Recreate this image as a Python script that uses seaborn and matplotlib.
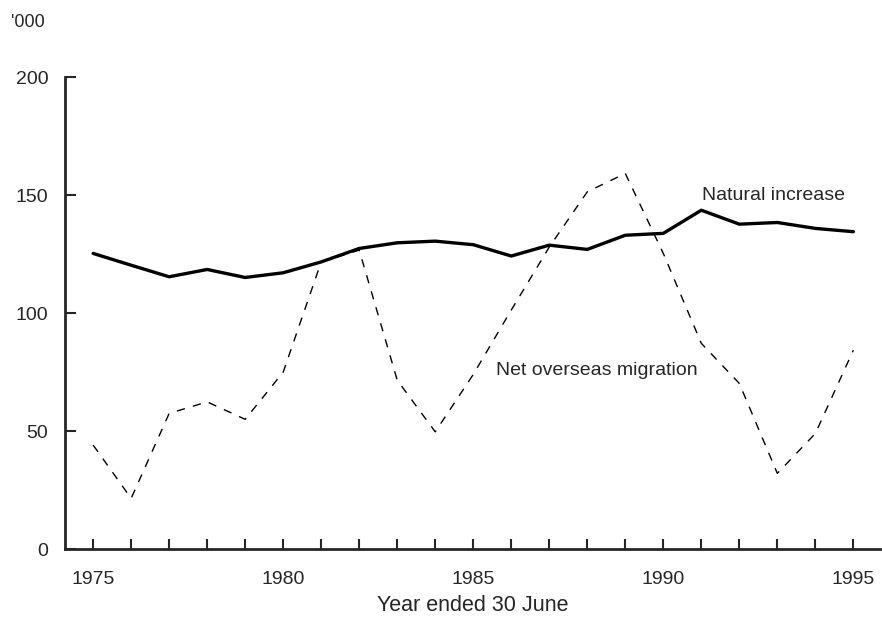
import matplotlib
matplotlib.use("Agg")
import matplotlib.pyplot as plt
import seaborn as sns
import pandas as pd

# Data ('000 persons)
years = list(range(1975, 1996))
natural_increase = [125.3, 120.3, 115.4, 118.5, 115.1, 117.1, 121.7, 127.4, 129.8, 130.5,
                    129.0, 124.2, 128.8, 127.0, 133.0, 133.8, 143.6, 137.7, 138.4, 135.9, 134.5]
net_migration = [44.1, 21.5, 57.5, 62.4, 55.0, 75.0, 121.7, 126.7, 71.6, 49.7,
                 74.0, 101.3, 128.0, 151.4, 159.2, 125.3, 87.2, 70.2, 32.1, 49.0, 84.3]
tick_years = [1975, 1980, 1985, 1990, 1995]
y_ticks = [0, 50, 100, 150, 200]

df = pd.DataFrame({"year": years, "natural": natural_increase, "migration": net_migration})

sns.set_style("ticks")
plt.rcParams["font.family"] = ["Liberation Sans", "DejaVu Sans"]

fig = plt.figure(figsize=(8.82, 6.17), dpi=100)
ax = fig.add_axes([0.0737, 0.110, 0.924, 0.765])

sns.lineplot(data=df, x="year", y="natural", ax=ax, color="black", linewidth=2.4)
sns.lineplot(data=df, x="year", y="migration", ax=ax, color="black", linewidth=1.0,
             dashes=False, linestyle=(0, (6, 6)))

ax.set_xlim(1974.26, 1995.7)
ax.set_ylim(0, 200)
ax.set_xticks(years, minor=True)
ax.set_xticks(tick_years)
ax.set_yticks(y_ticks)
ax.tick_params(axis="x", which="both", direction="in", length=7, width=1.5,
               pad=16, labelsize=14)
ax.tick_params(axis="y", direction="in", length=8, width=1.5, pad=12, labelsize=14)
ax.set_xlabel("Year ended 30 June", fontsize=15.5, labelpad=5)
ax.set_ylabel("")
for side in ["top", "right"]:
    ax.spines[side].set_visible(False)
for side in ["left", "bottom"]:
    ax.spines[side].set_linewidth(2)

ax.text(1992.9, 150, "Natural increase", fontsize=14, ha="center", va="center")
ax.text(1985.6, 75.5, "Net overseas migration", fontsize=14, ha="left", va="center")
fig.text(0.012, 0.963, "'000", fontsize=13, ha="left", va="center")

fig.savefig("out.png", dpi=100)
